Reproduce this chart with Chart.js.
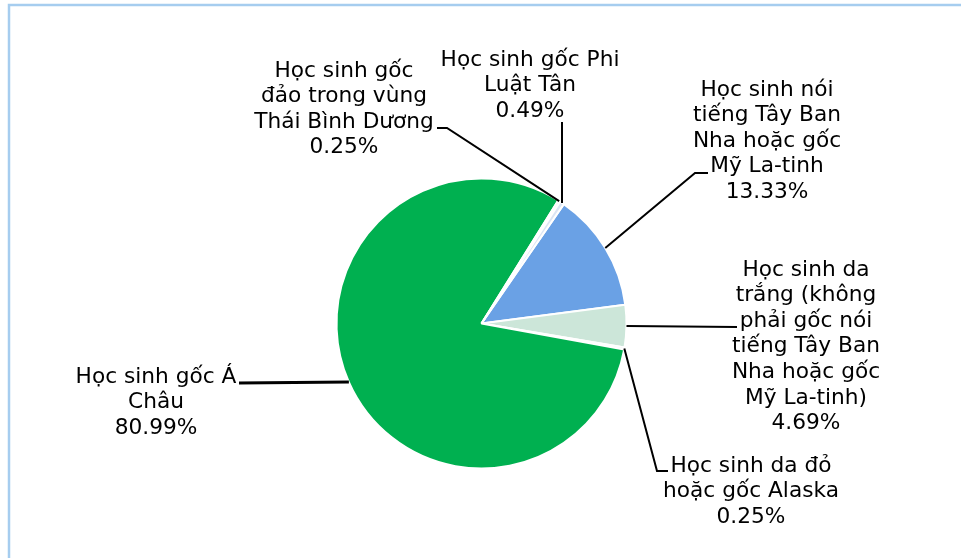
<!DOCTYPE html>
<html>
<head>
<meta charset="utf-8">
<script src="https://cdn.jsdelivr.net/npm/chart.js@4"></script>
<style>
html,body{margin:0;padding:0;background:#fff;overflow:hidden;}
canvas{display:block;}
</style>
</head>
<body>
<canvas id="c" width="961" height="558"></canvas>
<script>
// ---- data ----
const categories = [
  "Học sinh nói tiếng Tây Ban Nha hoặc gốc Mỹ La-tinh",
  "Học sinh da trắng (không phải gốc nói tiếng Tây Ban Nha hoặc gốc Mỹ La-tinh)",
  "Học sinh da đỏ hoặc gốc Alaska",
  "Học sinh gốc Á Châu",
  "Học sinh gốc đảo trong vùng Thái Bình Dương",
  "Học sinh gốc Phi Luật Tân"
];
const values = [13.33, 4.69, 0.25, 80.99, 0.25, 0.49];
const valueLabels = ["13.33%", "4.69%", "0.25%", "80.99%", "0.25%", "0.49%"];
// wrapped label lines as shown in the chart
const labelLines = [
  ["Học sinh nói", "tiếng Tây Ban", "Nha hoặc gốc", "Mỹ La-tinh"],
  ["Học sinh da", "trắng (không", "phải gốc nói", "tiếng Tây Ban", "Nha hoặc gốc", "Mỹ La-tinh)"],
  ["Học sinh da đỏ", "hoặc gốc Alaska"],
  ["Học sinh gốc Á", "Châu"],
  ["Học sinh gốc", "đảo trong vùng", "Thái Bình Dương"],
  ["Học sinh gốc Phi", "Luật Tân"]
];
const sliceColors = ["#6aa1e5", "#cce6d9", "#dce6f2", "#00b050", "#c6d9f1", "#dbe5f3"];

// ---- label layout (text block centre x, first line middle y, leader elbow points) ----
const labelLayout = [
  {cx: 767, y0: 90,  pts: [[695,173],[708,173]]},
  {cx: 806, y0: 270, pts: [[737,327]]},
  {cx: 751, y0: 466, pts: [[657,471],[668,471]]},
  {cx: 156, y0: 377, pts: [[239,383]], lw: 3},
  {cx: 344, y0: 71,  pts: [[447,128],[437,128]]},
  {cx: 530, y0: 60,  pts: [[562,122]]}
];
const lineH = 25.6;

const framePlugin = {
  id: 'frame',
  beforeDraw(chart) {
    const ctx = chart.ctx;
    ctx.save();
    ctx.fillStyle = '#fff';
    ctx.fillRect(0, 0, chart.width, chart.height);
    ctx.strokeStyle = '#a6cdef';
    ctx.lineWidth = 2.5;
    ctx.strokeRect(9, 5, 1000, 700);
    ctx.restore();
  }
};

const labelPlugin = {
  id: 'labels',
  afterDatasetsDraw(chart) {
    const ctx = chart.ctx;
    const meta = chart.getDatasetMeta(0);
    ctx.save();
    meta.data.forEach((arc, i) => {
      const p = arc.getProps(['x','y','startAngle','endAngle','outerRadius'], true);
      const mid = (p.startAngle + p.endAngle) / 2;
      const sx = p.x + Math.cos(mid) * p.outerRadius;
      const sy = p.y + Math.sin(mid) * p.outerRadius;
      const L = labelLayout[i];
      ctx.strokeStyle = '#000';
      ctx.lineWidth = L.lw || 2;
      ctx.beginPath();
      ctx.moveTo(sx, sy);
      L.pts.forEach(q => ctx.lineTo(q[0], q[1]));
      ctx.stroke();
      ctx.fillStyle = '#000';
      ctx.font = '21.7px "DejaVu Sans"';
      ctx.textAlign = 'center';
      ctx.textBaseline = 'middle';
      const lines = labelLines[i].concat([valueLabels[i]]);
      lines.forEach((t, k) => ctx.fillText(t, L.cx, L.y0 + k * lineH));
    });
    ctx.restore();
  }
};

new Chart(document.getElementById('c'), {
  type: 'pie',
  data: {
    labels: categories,
    datasets: [{
      data: values,
      backgroundColor: sliceColors,
      borderColor: '#ffffff',
      borderWidth: 2
    }]
  },
  options: {
    responsive: false,
    animation: false,
    rotation: 34.6,
    layout: { padding: { left: 335, right: 333, top: 177.5, bottom: 88.5 } },
    plugins: { legend: { display: false }, tooltip: { enabled: false } }
  },
  plugins: [framePlugin, labelPlugin]
});
</script>
</body>
</html>
